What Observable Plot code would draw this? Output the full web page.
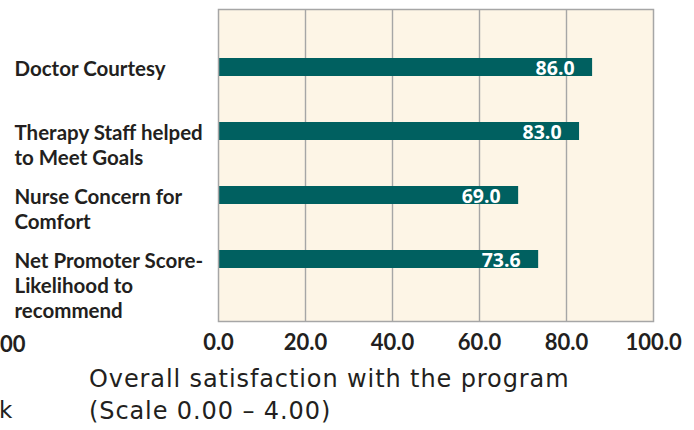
<!DOCTYPE html>
<html>
<head>
<meta charset="utf-8">
<script src="https://cdn.jsdelivr.net/npm/d3@7"></script>
<script src="https://cdn.jsdelivr.net/npm/@observablehq/plot@0.6"></script>
<style>
  html, body { margin: 0; padding: 0; background: #ffffff; }
  #wrap { position: relative; width: 694px; height: 430px; overflow: hidden; font-family: Lato, sans-serif; color: #231f20; }
  #chart { position: absolute; left: 0; top: 0; }
  .note { position: absolute; white-space: nowrap; }
</style>
</head>
<body>
<div id="wrap">
  <div id="chart"></div>
  <div class="note" style="left:0px; top:330px; font-size:22px; font-weight:700;">00</div>
  <div class="note" style="left:-1px; top:397px; font-size:23px; font-family:'DejaVu Sans', sans-serif;">k</div>
  <div class="note" style="left:89px; top:363px; font-size:24px; line-height:32px; letter-spacing:0.9px; font-family:'DejaVu Sans', sans-serif;">Overall satisfaction with the program<br>(Scale 0.00 – 4.00)</div>
</div>
<script>
const categories = [
  "Doctor Courtesy",
  "Therapy Staff helped\nto Meet Goals",
  "Nurse Concern for\nComfort",
  "Net Promoter Score-\nLikelihood to\nrecommend"
];
const values = [86.0, 83.0, 69.0, 73.6];
const ticks = [0, 20, 40, 60, 80, 100];
const gridTicks = [20, 40, 60, 80];

const data = categories.map((c, i) => ({category: c, value: values[i]}));

const plot = Plot.plot({
  width: 694,
  height: 360,
  marginLeft: 218,
  marginRight: 41,
  marginTop: 9,
  marginBottom: 39,
  style: {fontFamily: "Lato, sans-serif", color: "#231f20", background: "transparent", overflow: "visible"},
  x: {domain: [0, 100]},
  y: {domain: categories, range: [34, 291], paddingInner: 0.72, paddingOuter: 0.36, axis: null},
  marks: [
    Plot.frame({fill: "#fdf5e6", stroke: null}),
    Plot.gridX(gridTicks, {stroke: "#a6a6a6", strokeOpacity: 1, strokeWidth: 1.4}),
    Plot.barX(data, {x: "value", y: "category", fill: "#006060"}),
    Plot.text(data, {
      x: "value", y: "category",
      text: d => d.value.toFixed(1),
      textAnchor: "end", dx: -18, dy: 1,
      fill: "#ffffff", fontSize: 19.5, fontWeight: 700,
      fontFamily: "'Open Sans', sans-serif", letterSpacing: 0.6
    }),
    Plot.text(data, {
      y: "category", text: "category",
      frameAnchor: "left", textAnchor: "start", dx: -204,
      lineAnchor: "top", dy: -9, lineHeight: 1.22,
      fontSize: 20.5, fontWeight: 700, fill: "#231f20"
    }),
    Plot.axisX(ticks, {
      tickSize: 0, tickPadding: 13,
      tickFormat: d => d.toFixed(1),
      fontSize: 22, fontWeight: 700, fill: "#231f20", label: null
    }),
    Plot.frame({stroke: "#a6a6a6", strokeWidth: 1.5})
  ]
});
document.getElementById("chart").appendChild(plot);
</script>
</body>
</html>
